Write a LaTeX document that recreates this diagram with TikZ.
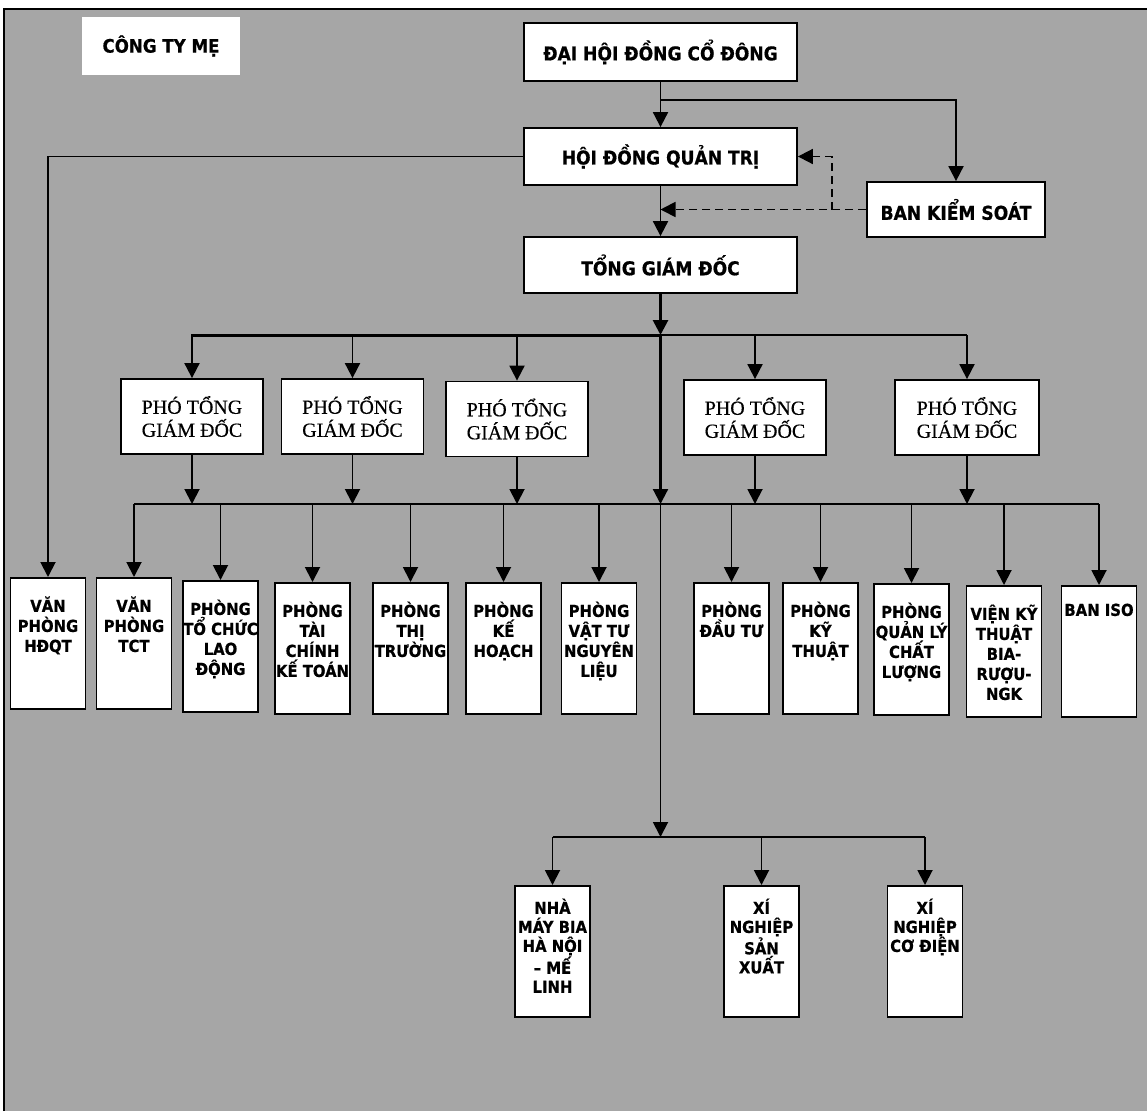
\documentclass[tikz,border=0pt]{standalone}
\usepackage{fontspec}
\usetikzlibrary{arrows.meta}
\newfontfamily\vsans[FakeStretch=0.9,FakeBold=0.6]{DejaVu Sans}
\newfontfamily\tnr[FakeBold=0.4]{Liberation Serif}
\definecolor{bggray}{RGB}{166,166,166}
\newcommand\dtext[3][34pt]{\parbox[c][131pt][t]{75pt}{\centering\vsans\bfseries\fontsize{16.5}{#2}\selectfont\rule{0pt}{#1}#3}}
\begin{document}
\begin{tikzpicture}[x=1pt,y=-1pt,
  box/.style={draw=black,line width=1.8pt,fill=white,inner sep=0pt},
  mainbox/.style={box,font=\vsans\bfseries\fontsize{19}{22}\selectfont},
  ptgd/.style={box,minimum width=142pt,minimum height=75pt,align=center,font=\tnr\fontsize{20}{23}\selectfont},
  dept/.style={box,anchor=north},
  arr/.style={line width=1.9pt,-{Triangle[length=15pt,width=15pt]}},
  conn/.style={line width=1.9pt},
  dasharr/.style={line width=1.8pt,dash pattern=on 8pt off 5pt,-{Triangle[length=15pt,width=15pt]}}
]
\useasboundingbox (0,0) rectangle (1147,1113);
\fill[white] (0,0) rectangle (1147,1113);
\fill[bggray] (4,9) rectangle (1147,1111);
\draw[line width=2.2pt] (4,1111) -- (4,9) -- (1147,9);

% top level
\node[fill=white,inner sep=0pt,minimum width=158pt,minimum height=58pt,font=\vsans\bfseries\fontsize{18.5}{22}\selectfont] (cty) at (161,46) {\raisebox{3pt}{CÔNG TY MẸ}};
\node[mainbox,minimum width=273pt,minimum height=58pt] (dh) at (660.5,52) {ĐẠI HỘI ĐỒNG CỔ ĐÔNG};
\node[mainbox,minimum width=273pt,minimum height=57pt] (hdqt) at (660.5,156.5) {HỘI ĐỒNG QUẢN TRỊ};
\node[mainbox,minimum width=273pt,minimum height=56pt] (tgd) at (660.5,265) {TỔNG GIÁM ĐỐC};
\node[mainbox,minimum width=178pt,minimum height=55pt] (bks) at (956,209.5) {BAN KIỂM SOÁT};

% deputy directors
\node[ptgd] (p1) at (192,416.5) {PHÓ TỔNG\\GIÁM ĐỐC};
\node[ptgd] (p2) at (352.5,416.5) {PHÓ TỔNG\\GIÁM ĐỐC};
\node[ptgd] (p3) at (517,419) {PHÓ TỔNG\\GIÁM ĐỐC};
\node[ptgd] (p4) at (755,417.5) {PHÓ TỔNG\\GIÁM ĐỐC};
\node[ptgd,minimum width=144pt] (p5) at (967,417.5) {PHÓ TỔNG\\GIÁM ĐỐC};

% departments
\node[dept] (vphdqt) at (48,577) {\dtext{20pt}{VĂN\\PHÒNG\\HĐQT}};
\node[dept] (vptct) at (134,577) {\dtext{20pt}{VĂN\\PHÒNG\\TCT}};
\node[dept] (tcld) at (220.5,580) {\dtext{20pt}{PHÒNG\\TỔ CHỨC\\LAO\\ĐỘNG}};
\node[dept] (tckt) at (312.5,582) {\dtext{20pt}{PHÒNG\\TÀI\\CHÍNH\\KẾ TOÁN}};
\node[dept] (tt) at (410.5,582) {\dtext{20pt}{PHÒNG\\THỊ\\TRƯỜNG}};
\node[dept] (kh) at (503.5,582) {\dtext{20pt}{PHÒNG\\KẾ\\HOẠCH}};
\node[dept] (vtnl) at (599,582) {\dtext{20pt}{PHÒNG\\VẬT TƯ\\NGUYÊN\\LIỆU}};
\node[dept] (dt) at (731.5,582) {\dtext{20pt}{PHÒNG\\ĐẦU TƯ}};
\node[dept] (kt) at (820.5,582) {\dtext{20pt}{PHÒNG\\KỸ\\THUẬT}};
\node[dept] (qlcl) at (911.5,583) {\dtext{20pt}{PHÒNG\\QUẢN LÝ\\CHẤT\\LƯỢNG}};
\node[dept] (vkt) at (1004,585) {\dtext{20pt}{VIỆN KỸ\\THUẬT\\BIA-\\RƯỢU-\\NGK}};
\node[dept] (iso) at (1099,585) {\dtext[30pt]{20pt}{BAN ISO}};

% subsidiaries
\node[dept] (nm) at (552.5,885) {\dtext[28pt]{19pt}{NHÀ\\MÁY BIA\\HÀ NỘI\\– MẾ\\LINH}};
\node[dept] (xnsx) at (761.5,885) {\dtext[28pt]{19pt}{XÍ\\NGHIỆP\\SẢN\\XUẤT}};
\node[dept] (xncd) at (925,885) {\dtext[28pt]{19pt}{XÍ\\NGHIỆP\\CƠ ĐIỆN}};

% junctions
\coordinate (j0) at (660.5,100);
\coordinate (j1) at (660.5,335);
\coordinate (j2) at (660.5,504);
\coordinate (j3) at (660.5,837);
\coordinate (dk) at (832,209.5);

% top connectors
\draw[arr] (dh.south) -- (hdqt.north);
\draw[arr] (j0) -| (bks.north);
\draw[arr] (hdqt.south) -- (tgd.north);
\draw[arr] (hdqt.west) -| (vphdqt.north);
\draw[dasharr] (bks.west) -- (bks.west -| j1);
\draw[dasharr] (dk) |- (hdqt.east);

% main trunk
\draw[arr,line width=2.8pt] (tgd.south) -- (j1);
\draw[line width=3pt,line cap=rect] (p1.north |- j1) -- (j1);
\draw[line width=2pt] (j1) -- (p5.north |- j1);
\draw[arr,line width=2.2pt] (j1) -- (j2);
\draw[arr] (j2) -- (j3);

\foreach \p in {p1,p2,p3,p4,p5}{
  \draw[arr] (\p.north |- j1) -- (\p.north);
  \draw[arr] (\p.south) -- (\p.south |- j2);
}

% lower bus
\draw[line width=2.8pt] (vptct.north |- j2) -- (j2);
\draw[line width=2.2pt] (j2) -- (iso.north |- j2);
\foreach \d in {vptct,tcld,tckt,tt,kh,vtnl,dt,kt,qlcl,vkt,iso}{
  \draw[arr] (\d.north |- j2) -- (\d.north);
}

% subsidiaries bus
\draw[conn] (nm.north |- j3) -- (xncd.north |- j3);
\foreach \d in {nm,xnsx,xncd}{
  \draw[arr] (\d.north |- j3) -- (\d.north);
}
\end{tikzpicture}
\end{document}
